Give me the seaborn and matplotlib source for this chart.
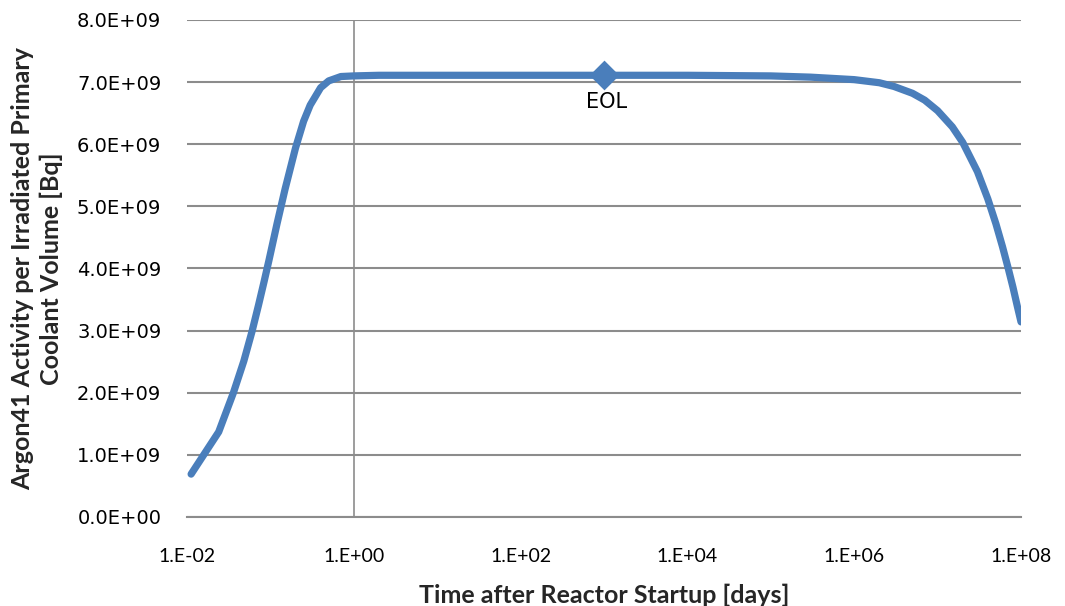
import math
import matplotlib
matplotlib.use("Agg")
import matplotlib.pyplot as plt
import seaborn as sns
import pandas as pd
from matplotlib.ticker import FixedLocator, FuncFormatter, NullLocator

# ---- data ----
time_days = [0.0112, 0.024, 0.036, 0.048, 0.06, 0.072, 0.084, 0.096, 0.12, 0.15,
             0.2, 0.25, 0.3, 0.4, 0.5, 0.7, 1.0, 2.0, 10.0, 100.0, 1e3, 1e4, 1e5,
             3e5, 1e6, 2e6, 3e6, 5e6, 7e6, 1e7, 1.5e7, 2e7, 3e7, 4e7, 5e7, 6e7,
             7e7, 8e7, 9e7, 1e8]
activity_e9 = [0.69, 1.37, 2.00, 2.51, 2.98, 3.41, 3.79, 4.13, 4.72, 5.28,
               5.94, 6.37, 6.63, 6.91, 7.02, 7.09, 7.10, 7.11, 7.11, 7.11, 7.11, 7.11, 7.10,
               7.08, 7.04, 6.99, 6.93, 6.82, 6.71, 6.54, 6.28, 6.03, 5.56, 5.12, 4.72, 4.35,
               4.01, 3.70, 3.40, 3.14]
eol_time = [1000.0]
eol_activity_e9 = [7.11]
eol_label = "EOL"
x_ticks = [1e-2, 1e0, 1e2, 1e4, 1e6, 1e8]
y_ticks_e9 = [0, 1, 2, 3, 4, 5, 6, 7, 8]
x_title = "Time after Reactor Startup [days]"
y_title = "Argon41 Activity per Irradiated Primary\nCoolant Volume [Bq]"

df = pd.DataFrame({"t": time_days, "a": [v * 1e9 for v in activity_e9]})
df_eol = pd.DataFrame({"t": eol_time, "a": [v * 1e9 for v in eol_activity_e9]})

sns.set_style("white")
plt.rcParams['font.family'] = ['Lato', 'DejaVu Sans']

fig = plt.figure(figsize=(10.65, 6.06), dpi=100)
ax = fig.add_axes([0.1756, 0.1469, 0.9587 - 0.1756, 0.967 - 0.1469])

blue = "#4A7EBB"
grid_c = "#8C8C8C"

sns.lineplot(data=df, x="t", y="a", ax=ax, color=blue, linewidth=5.2,
             solid_capstyle="round", zorder=3)
sns.scatterplot(data=df_eol, x="t", y="a", ax=ax, color=blue, marker="D",
                s=230, edgecolor=blue, linewidth=0, zorder=4)
ax.annotate(eol_label, (eol_time[0], eol_activity_e9[0] * 1e9), xytext=(2, -12),
            textcoords="offset points", ha="center", va="top", fontsize=15,
            color="black", family=["DejaVu Sans"])

ax.set_xscale("log")
ax.set_xlim(1e-2, 1e8)
ax.set_ylim(0, 8e9)
ax.xaxis.set_major_locator(FixedLocator(x_ticks))
ax.xaxis.set_minor_locator(NullLocator())
ax.yaxis.set_major_locator(FixedLocator([v * 1e9 for v in y_ticks_e9]))

def xfmt(v, pos):
    e = int(round(math.log10(v)))
    return "1.E%s%02d" % ("+" if e >= 0 else "-", abs(e))

def yfmt(v, pos):
    if v == 0:
        return "0.0E+00"
    e = int(math.floor(math.log10(abs(v)) + 1e-9))
    m = v / 10 ** e
    return "%.1fE+%02d" % (m, e)

ax.xaxis.set_major_formatter(FuncFormatter(xfmt))
ax.yaxis.set_major_formatter(FuncFormatter(yfmt))

for s in ["top", "right", "left"]:
    ax.spines[s].set_visible(False)
ax.spines["bottom"].set_color(grid_c)
ax.spines["bottom"].set_linewidth(1.5)
ax.grid(axis="y", color=grid_c, linewidth=1.5)
ax.axvline(1.0, color=grid_c, linewidth=1.2, zorder=1)
ax.set_axisbelow(True)

ax.tick_params(axis="y", length=0, pad=18.5, labelsize=14, colors="black")
ax.tick_params(axis="x", length=0, pad=22, labelsize=14, colors="black")
for lab in ax.get_yticklabels():
    lab.set_fontfamily(["DejaVu Sans"])

ax.set_xlabel(x_title, fontsize=18, fontweight="bold", labelpad=14)
ax.set_ylabel(y_title, fontsize=18, fontweight="bold", labelpad=10,
              linespacing=1.3)

fig.savefig("out.png", dpi=100)
